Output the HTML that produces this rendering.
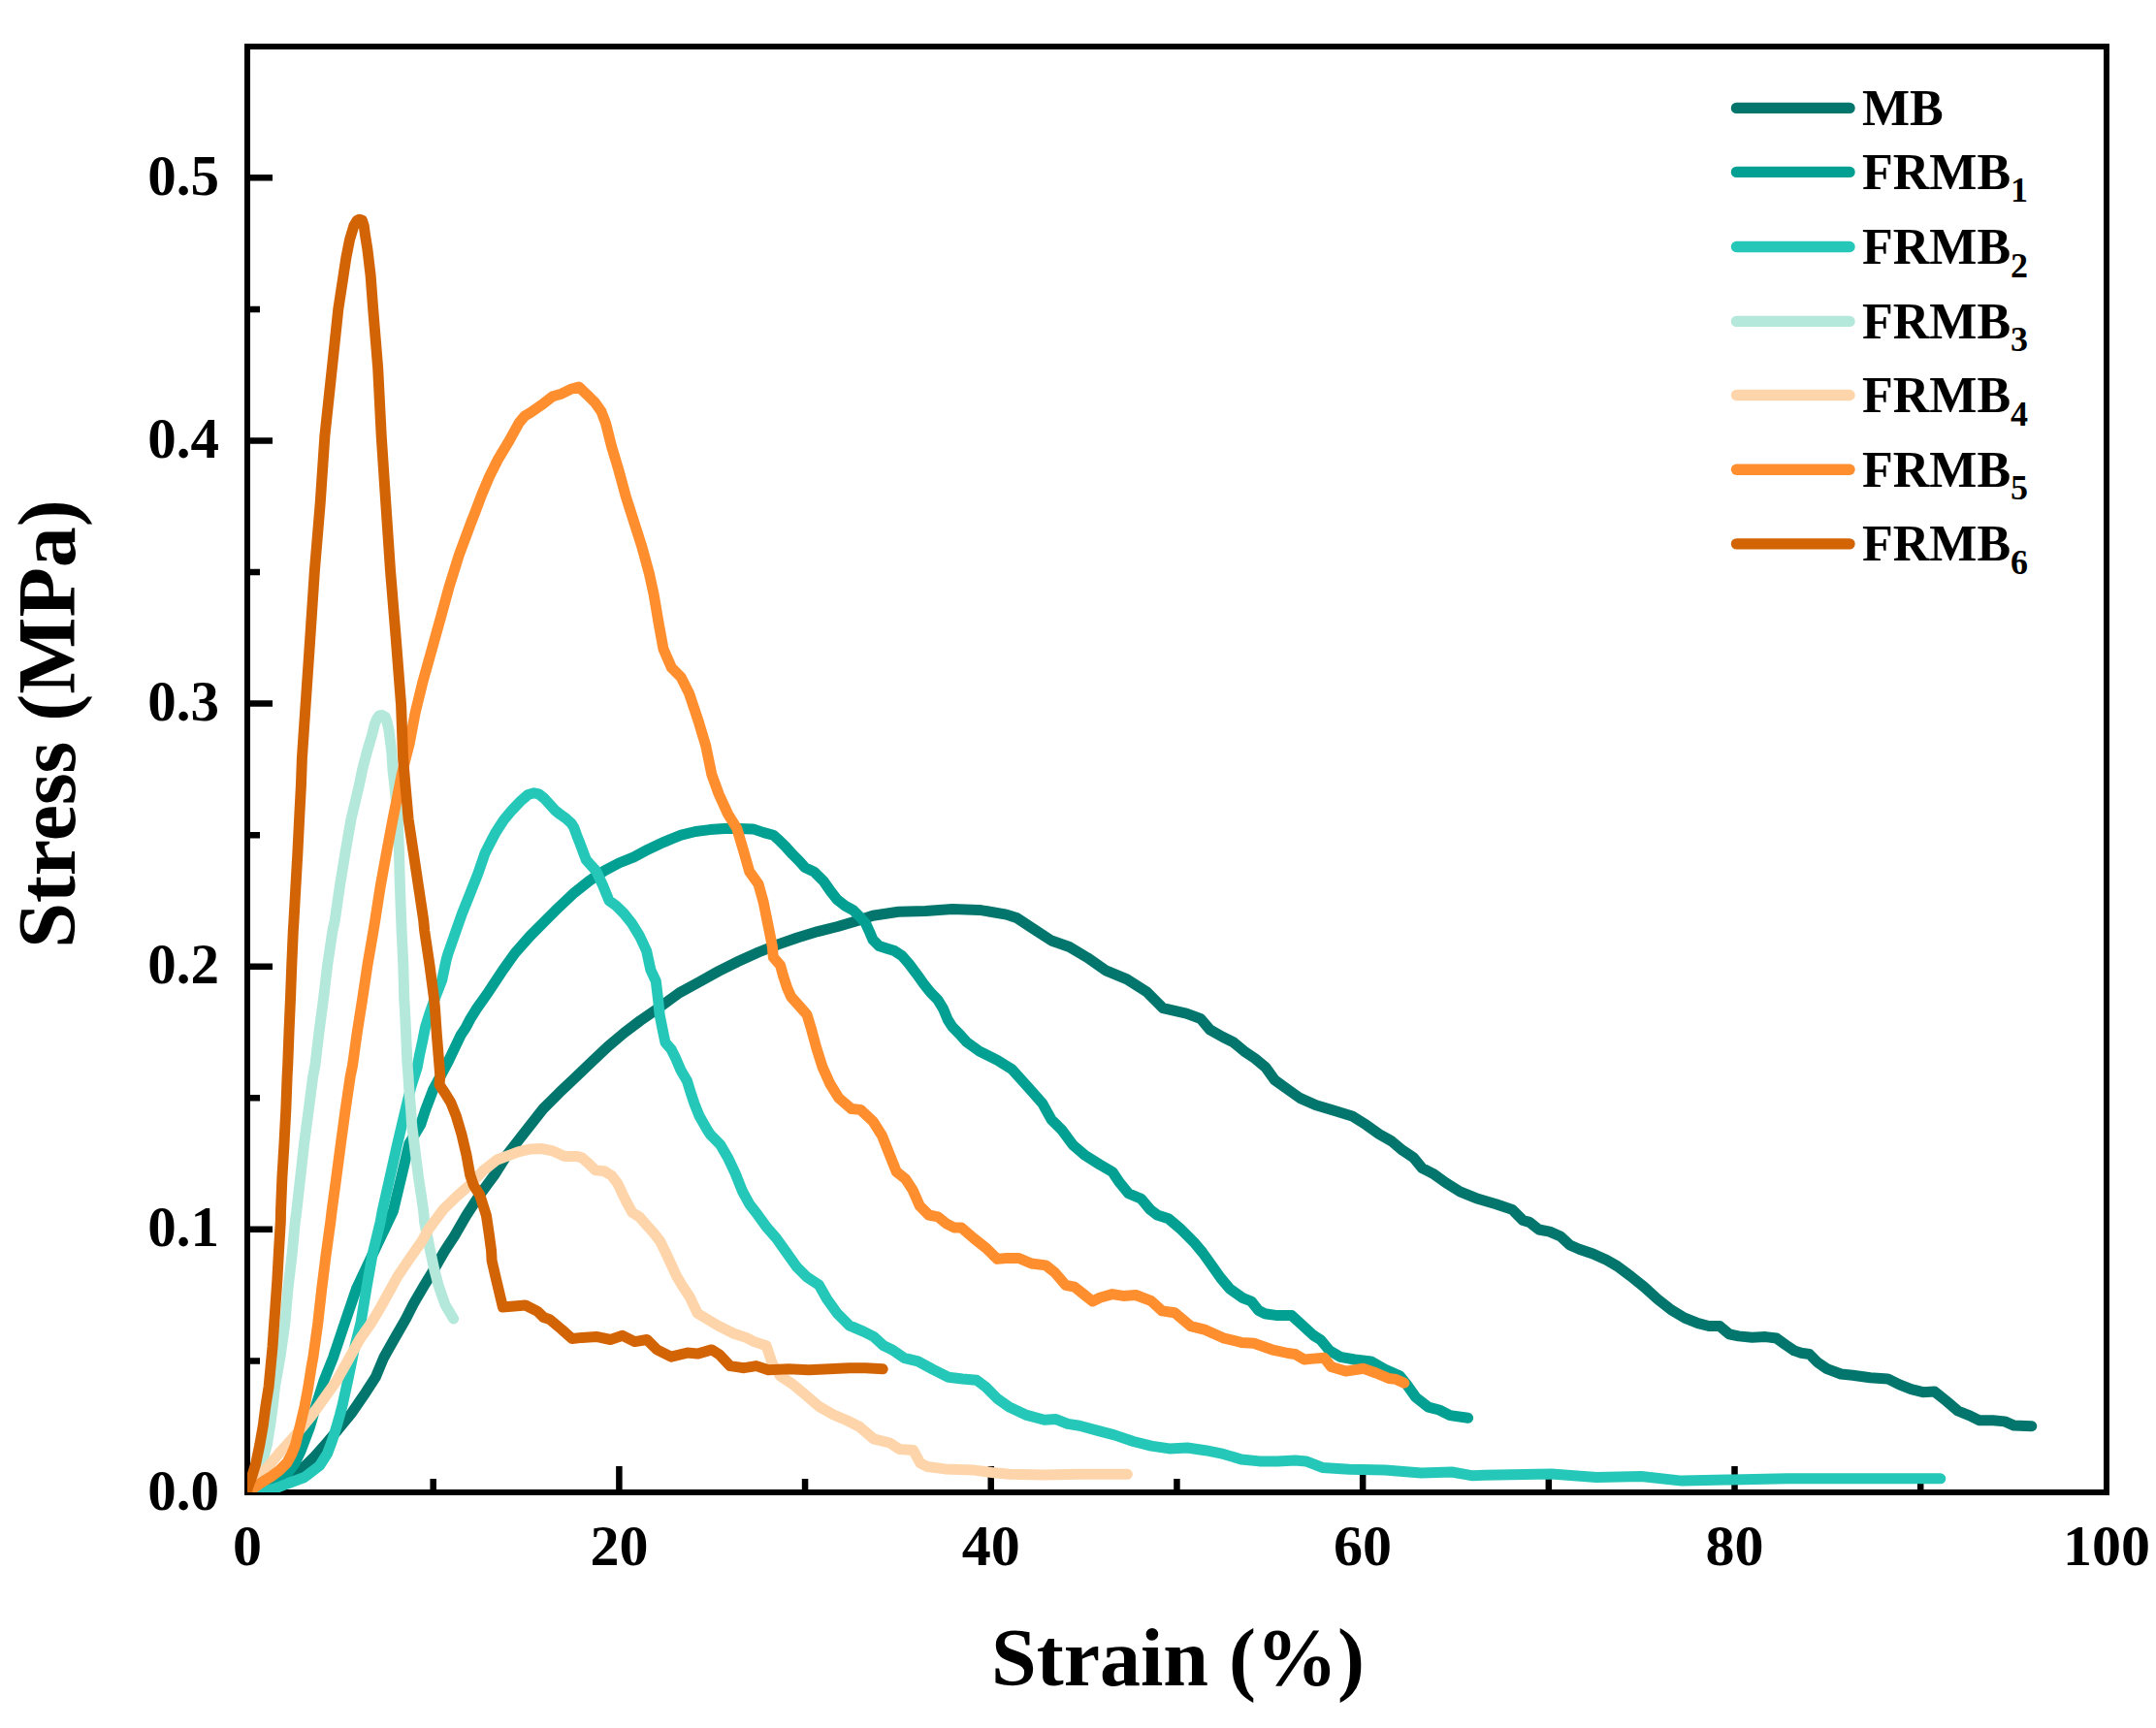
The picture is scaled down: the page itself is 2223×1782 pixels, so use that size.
<!DOCTYPE html><html><head><meta charset="utf-8"><title>Stress-Strain</title><style>html,body{margin:0;padding:0;background:#fff;overflow:hidden}</style></head><body><svg width="2223" height="1782" viewBox="0 0 2223 1782" style="display:block">
<rect x="0" y="0" width="2223" height="1782" fill="#fff"/>
<path d="M255 1267.87H281 M255 996.74H281 M255 725.61H281 M255 454.48H281 M255 183.35H281 M255 1403.43H268 M255 1132.30H268 M255 861.17H268 M255 590.04H268 M255 318.91H268 M638.38 1539V1512 M1021.76 1539V1512 M1405.14 1539V1512 M1788.52 1539V1512 M446.69 1539V1525 M830.07 1539V1525 M1213.45 1539V1525 M1596.83 1539V1525 M1980.21 1539V1525" stroke="#000" stroke-width="6.5" fill="none"/>
<rect x="255" y="48" width="1917" height="1491" fill="none" stroke="#000" stroke-width="6"/>
<defs><clipPath id="pc"><rect x="255" y="48" width="1917" height="1491"/></clipPath></defs>
<g clip-path="url(#pc)">
<path d="M255.0 1539.0 L270.0 1533.0 L284.6 1527.8 L294.6 1523.8 L304.6 1518.5 L314.5 1511.8 L324.5 1501.9 L335.2 1489.9 L348.3 1474.6 L362.9 1456.7 L375.1 1438.9 L387.2 1420.3 L395.7 1400.0 L407.0 1380.0 L418.5 1360.0 L426.2 1344.8 L437.0 1326.3 L447.0 1310.0 L458.5 1290.0 L468.8 1274.2 L480.9 1253.3 L494.4 1232.5 L509.7 1211.7 L522.9 1190.8 L539.2 1170.0 L560.0 1143.5 L576.7 1126.8 L593.4 1111.0 L610.1 1095.1 L626.8 1079.2 L643.5 1065.1 L660.2 1052.5 L676.9 1040.9 L700.4 1023.9 L720.8 1012.7 L741.2 1001.4 L761.6 991.2 L782.0 982.0 L802.4 973.9 L822.9 966.7 L843.3 960.6 L863.7 955.5 L884.1 949.4 L900.0 944.3 L926.4 940.3 L954.2 939.4 L982.0 937.5 L1009.9 938.4 L1037.7 943.1 L1048.8 946.8 L1065.5 957.9 L1084.1 970.0 L1102.6 976.5 L1121.2 987.6 L1139.7 1000.6 L1162.0 1009.9 L1182.4 1022.9 L1199.1 1039.6 L1223.2 1045.1 L1238.1 1050.7 L1247.5 1061.9 L1260.5 1069.3 L1271.6 1074.8 L1282.8 1084.1 L1293.9 1091.5 L1305.0 1100.8 L1314.3 1113.8 L1327.3 1123.1 L1340.3 1132.4 L1357.0 1139.8 L1375.5 1145.3 L1394.1 1150.9 L1408.9 1160.2 L1421.9 1169.5 L1434.9 1176.9 L1446.0 1186.2 L1457.2 1193.6 L1466.4 1204.7 L1477.6 1210.3 L1490.6 1219.6 L1505.4 1228.8 L1523.9 1236.3 L1542.5 1241.8 L1559.2 1247.4 L1570.3 1258.5 L1577.0 1260.4 L1586.7 1268.0 L1597.8 1270.1 L1609.0 1275.0 L1618.7 1284.0 L1628.4 1288.2 L1642.4 1293.0 L1656.3 1299.3 L1667.4 1305.6 L1681.3 1316.0 L1695.2 1327.1 L1709.1 1339.7 L1723.1 1350.8 L1737.0 1359.1 L1750.9 1364.7 L1762.0 1367.5 L1773.1 1367.5 L1782.9 1375.8 L1792.6 1377.9 L1806.5 1379.3 L1820.4 1378.6 L1831.6 1380.0 L1841.3 1387.0 L1850.0 1392.9 L1857.2 1395.3 L1865.7 1396.5 L1874.1 1405.0 L1883.8 1411.6 L1898.2 1417.0 L1910.3 1418.2 L1928.4 1420.7 L1946.5 1421.9 L1958.5 1427.9 L1970.6 1432.7 L1982.7 1435.7 L1994.7 1435.1 L2006.8 1444.8 L2018.8 1455.0 L2030.9 1459.8 L2040.5 1464.7 L2055.0 1464.7 L2067.1 1465.9 L2076.7 1470.1 L2094.8 1470.7" stroke="#02766C" stroke-width="11" fill="none" stroke-linecap="round" stroke-linejoin="round"/>
<path d="M255.0 1539.0 L275.0 1533.0 L288.0 1526.5 L296.7 1519.0 L303.6 1509.8 L310.0 1496.5 L319.0 1472.9 L326.0 1449.0 L333.8 1424.3 L343.5 1400.0 L355.5 1364.2 L367.3 1329.4 L383.7 1294.7 L394.5 1272.0 L405.4 1248.9 L413.7 1214.2 L421.9 1179.4 L433.6 1160.0 L438.8 1144.2 L446.8 1123.3 L461.7 1095.6 L474.9 1067.8 L480.1 1060.0 L484.7 1051.1 L491.6 1040.0 L503.4 1023.3 L518.8 1000.0 L531.0 982.9 L546.3 965.5 L561.6 950.2 L576.9 934.9 L592.2 920.6 L607.6 908.4 L622.9 898.2 L638.2 890.0 L653.5 883.9 L668.8 875.7 L684.1 868.6 L691.1 865.6 L702.3 861.2 L717.1 857.5 L731.9 855.6 L746.8 854.5 L761.6 854.5 L776.5 854.9 L787.6 858.6 L797.3 861.2 L802.4 865.6 L809.9 873.0 L817.3 881.2 L824.7 888.6 L830.0 894.6 L839.5 899.1 L849.1 908.6 L856.7 919.5 L863.1 927.7 L871.4 934.1 L879.7 938.6 L886.0 944.9 L892.4 951.9 L896.8 961.5 L900.0 969.1 L906.4 975.5 L914.0 978.0 L922.3 980.6 L930.0 985.7 L937.4 994.1 L945.7 1005.2 L952.2 1014.4 L959.6 1023.7 L967.0 1031.1 L972.6 1040.4 L977.2 1051.5 L981.9 1058.9 L989.3 1066.3 L996.7 1074.6 L1009.9 1084.1 L1028.4 1093.4 L1043.3 1102.6 L1060.0 1121.2 L1074.8 1137.9 L1084.1 1154.6 L1095.2 1165.7 L1106.1 1180.6 L1119.1 1191.7 L1134.0 1201.0 L1146.9 1208.4 L1154.4 1219.6 L1163.6 1230.7 L1176.6 1236.3 L1185.9 1247.4 L1193.3 1253.0 L1204.8 1256.7 L1217.8 1267.8 L1230.8 1280.8 L1240.1 1291.9 L1249.4 1304.9 L1258.6 1317.9 L1267.9 1329.0 L1280.9 1338.3 L1290.2 1342.0 L1297.6 1351.3 L1304.0 1354.7 L1317.0 1356.6 L1331.8 1356.6 L1343.0 1366.8 L1354.1 1377.0 L1361.5 1381.6 L1370.8 1392.8 L1381.9 1399.3 L1396.8 1402.0 L1413.4 1403.9 L1428.3 1412.2 L1443.1 1418.7 L1450.6 1428.0 L1459.8 1441.0 L1472.8 1451.2 L1484.0 1454.0 L1495.1 1459.6 L1513.6 1462.3" stroke="#02A092" stroke-width="11" fill="none" stroke-linecap="round" stroke-linejoin="round"/>
<path d="M255.0 1540.0 L272.0 1538.0 L285.0 1534.5 L296.3 1530.0 L313.8 1523.5 L329.5 1511.5 L337.5 1499.0 L342.0 1487.0 L346.5 1473.0 L350.5 1459.0 L353.2 1448.6 L358.5 1424.3 L365.5 1390.0 L372.0 1364.2 L377.7 1329.4 L383.8 1294.7 L392.2 1260.0 L394.2 1248.9 L402.0 1214.2 L409.8 1179.4 L418.0 1144.7 L424.0 1120.0 L430.1 1101.1 L432.7 1087.2 L435.7 1073.3 L438.5 1059.4 L442.8 1045.6 L449.0 1028.0 L455.7 1010.8 L460.1 990.0 L461.7 984.2 L469.0 963.3 L476.3 942.5 L484.6 921.7 L492.9 900.8 L500.0 880.0 L503.9 872.3 L511.1 858.4 L519.5 845.6 L527.8 835.6 L536.2 826.7 L544.5 819.5 L550.6 817.8 L555.6 818.9 L561.2 823.4 L566.8 829.5 L572.3 835.6 L577.9 840.1 L583.5 844.0 L589.0 849.0 L591.8 853.4 L594.6 861.2 L597.9 869.6 L601.8 880.0 L604.5 886.9 L614.7 898.2 L621.8 913.5 L628.0 928.8 L635.1 933.9 L643.3 942.0 L651.4 952.2 L659.6 965.5 L666.7 980.8 L670.8 1000.0 L676.3 1011.9 L678.5 1030.0 L680.2 1046.7 L683.5 1063.4 L686.0 1075.1 L691.9 1081.8 L696.9 1091.8 L701.9 1103.5 L708.6 1115.1 L711.9 1126.0 L716.1 1138.5 L721.1 1151.0 L730.3 1166.9 L733.0 1170.7 L742.6 1180.3 L751.0 1194.8 L758.3 1210.4 L765.5 1228.5 L772.8 1241.8 L781.2 1252.7 L790.8 1265.9 L800.6 1277.1 L811.0 1291.7 L821.4 1306.4 L831.9 1316.8 L844.4 1325.1 L852.7 1339.8 L863.2 1354.4 L875.7 1366.9 L890.3 1373.1 L900.8 1378.4 L911.2 1387.8 L920.0 1391.9 L932.1 1400.3 L946.5 1403.9 L962.2 1412.4 L977.9 1420.2 L992.4 1422.0 L1006.8 1423.2 L1016.5 1430.4 L1028.5 1442.5 L1040.6 1451.0 L1058.7 1459.4 L1076.8 1464.2 L1088.8 1463.6 L1100.9 1468.4 L1113.0 1470.2 L1131.0 1475.1 L1149.1 1479.9 L1168.6 1486.5 L1187.1 1491.1 L1205.7 1493.9 L1224.2 1493.0 L1242.8 1495.7 L1261.3 1499.4 L1279.9 1505.0 L1298.4 1506.9 L1317.0 1506.9 L1335.5 1505.9 L1346.7 1506.9 L1363.4 1513.4 L1391.2 1515.2 L1428.3 1516.1 L1465.4 1518.9 L1496.9 1518.0 L1517.3 1521.7 L1530.0 1521.3 L1599.6 1520.1 L1646.0 1523.6 L1692.3 1522.5 L1734.1 1527.1 L1785.1 1525.9 L1843.1 1524.8 L1901.1 1524.8 L1947.4 1524.8 L2000.8 1524.8" stroke="#25C7B8" stroke-width="11" fill="none" stroke-linecap="round" stroke-linejoin="round"/>
<path d="M255.0 1539.0 L264.0 1530.0 L270.0 1510.0 L275.3 1489.9 L278.6 1469.9 L281.3 1450.0 L283.5 1430.0 L289.0 1398.9 L293.9 1364.2 L296.9 1329.4 L301.0 1294.7 L304.3 1260.0 L305.8 1248.9 L309.7 1214.2 L313.6 1179.4 L318.2 1144.7 L322.7 1110.0 L324.9 1098.9 L329.0 1064.2 L333.6 1029.4 L337.7 994.7 L342.9 960.0 L345.3 948.9 L350.3 914.2 L356.0 879.4 L362.0 844.7 L370.3 810.0 L373.5 794.1 L378.3 775.6 L383.8 757.0 L386.3 746.9 L388.6 741.3 L391.0 738.0 L394.0 737.5 L397.4 739.5 L399.2 745.0 L400.8 752.4 L401.5 757.0 L403.8 775.6 L405.0 794.1 L406.8 810.0 L410.2 844.7 L411.5 879.4 L412.4 914.2 L413.7 948.9 L414.1 960.0 L415.8 994.7 L416.7 1029.4 L417.4 1040.0 L418.7 1067.8 L419.9 1095.6 L421.0 1110.0 L421.8 1123.3 L423.7 1144.7 L424.6 1160.0 L427.1 1179.4 L431.5 1214.2 L436.7 1248.9 L437.6 1260.0 L443.5 1289.3 L447.5 1307.8 L452.3 1326.3 L459.0 1345.5 L467.6 1360.0" stroke="#B4E8DA" stroke-width="11" fill="none" stroke-linecap="round" stroke-linejoin="round"/>
<path d="M255.0 1539.0 L261.3 1528.5 L268.0 1521.8 L278.6 1509.8 L289.6 1496.5 L295.9 1489.9 L304.6 1479.9 L313.2 1469.9 L321.2 1460.0 L328.5 1450.0 L347.0 1424.0 L361.0 1399.0 L371.0 1381.0 L383.0 1364.0 L393.0 1347.0 L403.0 1329.0 L409.5 1317.0 L422.0 1298.5 L435.0 1280.0 L441.7 1268.0 L450.0 1256.8 L456.9 1247.4 L470.8 1233.9 L484.7 1221.7 L498.6 1206.8 L512.5 1196.0 L526.4 1190.8 L534.3 1187.8 L547.2 1184.9 L558.1 1184.5 L570.1 1186.9 L582.2 1192.4 L594.3 1192.4 L600.0 1193.9 L607.4 1200.4 L613.9 1206.9 L623.1 1207.8 L630.6 1212.4 L637.0 1220.7 L641.7 1230.9 L646.3 1240.2 L651.9 1250.4 L659.3 1255.0 L666.7 1263.3 L674.1 1271.7 L680.6 1280.0 L686.1 1291.1 L691.7 1303.1 L697.2 1315.2 L703.7 1326.3 L711.1 1337.4 L719.2 1354.4 L729.6 1360.6 L740.0 1366.9 L756.7 1375.2 L769.3 1379.4 L777.6 1383.6 L790.1 1387.8 L796.4 1406.5 L804.7 1419.1 L817.3 1427.4 L829.8 1437.9 L844.4 1450.4 L859.0 1458.7 L873.6 1465.0 L886.1 1471.2 L900.8 1483.8 L917.5 1488.0 L927.2 1494.4 L941.7 1495.6 L948.9 1508.8 L956.2 1512.5 L974.3 1514.9 L1004.4 1516.1 L1022.5 1518.5 L1040.6 1520.3 L1076.8 1520.9 L1113.0 1520.3 L1162.4 1520.3" stroke="#FED5AA" stroke-width="11" fill="none" stroke-linecap="round" stroke-linejoin="round"/>
<path d="M255.0 1539.0 L262.6 1533.8 L271.3 1527.8 L279.9 1522.5 L287.9 1516.5 L295.9 1508.5 L300.6 1499.9 L304.6 1489.9 L309.5 1469.9 L314.2 1450.0 L317.9 1430.0 L321.0 1410.0 L323.0 1398.9 L327.8 1364.2 L331.7 1329.4 L336.0 1294.7 L340.8 1260.0 L342.1 1248.9 L346.8 1214.2 L351.4 1179.4 L356.1 1144.7 L361.2 1110.0 L363.5 1098.9 L368.3 1064.2 L373.8 1029.4 L379.0 994.7 L385.0 960.0 L386.8 948.9 L392.2 914.2 L398.5 879.4 L405.0 844.7 L409.0 825.0 L414.0 799.7 L418.3 782.0 L422.1 767.2 L428.2 734.8 L436.1 702.4 L445.2 670.0 L454.3 637.2 L463.2 604.8 L473.3 572.4 L485.3 540.0 L489.6 528.9 L496.6 510.4 L504.4 491.9 L513.7 473.3 L524.8 454.8 L535.0 436.3 L541.0 429.0 L547.0 425.5 L558.1 417.8 L570.0 408.7 L579.3 405.9 L588.5 401.3 L596.9 399.0 L605.2 406.9 L613.5 415.2 L620.0 424.4 L624.4 435.9 L630.5 460.2 L637.8 484.5 L645.1 511.3 L653.6 538.0 L662.1 564.7 L669.4 591.5 L674.2 613.4 L679.1 642.5 L684.0 669.3 L692.5 688.7 L702.2 698.4 L710.7 715.4 L720.4 744.6 L727.7 768.9 L730.0 780.0 L733.8 798.6 L741.2 819.0 L750.5 839.4 L759.7 854.2 L765.3 872.8 L772.7 898.7 L782.0 911.7 L787.1 930.0 L790.2 945.3 L793.3 960.6 L796.3 975.9 L797.3 987.1 L804.5 995.3 L807.6 1006.5 L811.6 1018.8 L815.7 1028.0 L824.9 1038.2 L832.0 1046.3 L836.2 1060.0 L841.7 1080.4 L848.2 1100.8 L855.7 1117.5 L864.9 1132.4 L877.9 1143.5 L887.2 1144.4 L900.2 1156.5 L909.5 1171.3 L916.9 1189.9 L924.3 1208.4 L933.6 1215.8 L941.0 1227.0 L948.4 1243.7 L957.7 1253.0 L967.0 1254.8 L976.3 1262.2 L983.7 1265.9 L991.1 1265.9 L1004.1 1277.1 L1017.1 1287.3 L1028.2 1298.4 L1037.5 1297.5 L1050.5 1297.5 L1063.5 1303.0 L1078.3 1304.9 L1087.6 1312.3 L1098.7 1325.3 L1108.0 1327.2 L1117.3 1334.6 L1126.5 1342.0 L1134.0 1338.3 L1146.9 1334.6 L1158.1 1336.4 L1171.1 1335.5 L1187.1 1341.7 L1198.2 1351.9 L1211.2 1353.8 L1227.9 1367.7 L1242.8 1371.4 L1261.3 1379.8 L1279.9 1384.4 L1292.9 1385.3 L1311.4 1391.8 L1328.1 1395.5 L1335.5 1396.5 L1344.8 1402.0 L1354.1 1401.1 L1365.2 1400.2 L1372.6 1409.5 L1387.5 1414.1 L1406.0 1411.3 L1419.0 1416.0 L1432.0 1421.5 L1439.4 1422.4 L1447.8 1426.2" stroke="#FF8E2F" stroke-width="11" fill="none" stroke-linecap="round" stroke-linejoin="round"/>
<path d="M254.0 1542.0 L255.5 1534.0 L259.6 1523.1 L263.6 1509.8 L267.8 1489.9 L271.3 1469.9 L273.9 1450.0 L277.1 1430.0 L281.0 1388.9 L285.9 1319.4 L287.5 1290.0 L289.3 1260.0 L289.5 1248.9 L290.9 1214.2 L293.0 1179.4 L294.8 1144.7 L296.1 1110.0 L296.7 1098.9 L298.0 1064.2 L299.5 1029.4 L300.8 994.7 L302.3 960.0 L303.0 948.9 L304.9 914.2 L306.9 879.4 L308.6 844.7 L310.4 810.0 L311.4 782.0 L314.9 730.0 L319.8 657.8 L324.4 588.3 L330.2 518.9 L334.9 449.4 L342.3 380.0 L348.8 318.9 L354.1 284.1 L356.9 265.6 L360.6 247.0 L364.8 233.1 L368.0 227.5 L370.5 226.3 L373.5 227.3 L375.3 233.1 L376.5 242.4 L378.8 256.3 L382.1 284.0 L384.7 318.9 L389.7 380.0 L393.2 449.4 L397.8 518.9 L402.5 588.3 L408.2 657.8 L413.6 727.2 L415.6 782.0 L418.0 810.0 L421.1 844.7 L426.3 879.4 L431.5 914.2 L436.7 948.9 L437.7 960.0 L442.9 994.7 L447.5 1029.4 L448.5 1040.0 L450.4 1067.8 L452.7 1095.6 L453.8 1109.4 L453.0 1118.5 L458.6 1126.8 L464.9 1137.2 L470.4 1151.1 L476.0 1170.0 L480.9 1190.8 L484.7 1211.7 L488.2 1222.1 L494.8 1232.5 L501.4 1253.3 L504.5 1274.2 L506.6 1290.0 L507.1 1300.0 L511.5 1318.9 L518.4 1348.1 L541.7 1346.0 L554.3 1352.3 L560.5 1358.5 L566.8 1360.6 L579.3 1371.1 L589.8 1380.5 L600.2 1379.4 L614.8 1378.4 L629.4 1381.5 L641.9 1377.3 L654.5 1383.6 L667.0 1381.5 L677.4 1391.9 L692.0 1399.2 L708.7 1395.1 L719.2 1396.1 L733.8 1391.9 L742.1 1397.2 L752.6 1408.6 L767.2 1410.7 L779.7 1408.6 L792.2 1412.8 L813.1 1411.8 L834.0 1412.8 L854.8 1411.8 L875.7 1410.7 L892.4 1410.7 L910.2 1411.8" stroke="#D36406" stroke-width="11" fill="none" stroke-linecap="round" stroke-linejoin="round"/>
</g>
<g font-family="'Liberation Serif', serif" font-weight="bold" font-size="60" fill="#000"><text x="226" y="1556.5" text-anchor="end" font-size="59">0.0</text><text x="226" y="1285.4" text-anchor="end" font-size="59">0.1</text><text x="226" y="1014.2" text-anchor="end" font-size="59">0.2</text><text x="226" y="743.1" text-anchor="end" font-size="59">0.3</text><text x="226" y="472.0" text-anchor="end" font-size="59">0.4</text><text x="226" y="200.8" text-anchor="end" font-size="59">0.5</text><text x="255.0" y="1614" text-anchor="middle">0</text><text x="638.4" y="1614" text-anchor="middle">20</text><text x="1021.8" y="1614" text-anchor="middle">40</text><text x="1405.1" y="1614" text-anchor="middle">60</text><text x="1788.5" y="1614" text-anchor="middle">80</text><text x="2171.9" y="1614" text-anchor="middle">100</text></g>
<text x="1214.5" y="1738" text-anchor="middle" font-family="'Liberation Serif', serif" font-weight="bold" font-size="84" fill="#000">Strain (%)</text>
<text transform="translate(77 746.5) rotate(-90)" text-anchor="middle" font-family="'Liberation Serif', serif" font-weight="bold" font-size="84" fill="#000">Stress (MPa)</text>
<line x1="1790.5" y1="111.4" x2="1907" y2="111.4" stroke="#02766C" stroke-width="11.4" stroke-linecap="round"/>
<text x="1920" y="128.9" font-family="'Liberation Serif', serif" font-weight="bold" font-size="52" fill="#000">MB</text>
<line x1="1790.5" y1="177.4" x2="1907" y2="177.4" stroke="#02A092" stroke-width="11.4" stroke-linecap="round"/>
<text x="1920" y="194.9" font-family="'Liberation Serif', serif" font-weight="bold" font-size="52" fill="#000">FRMB<tspan font-size="36" dy="13.5">1</tspan></text>
<line x1="1790.5" y1="254.5" x2="1907" y2="254.5" stroke="#25C7B8" stroke-width="11.4" stroke-linecap="round"/>
<text x="1920" y="272.0" font-family="'Liberation Serif', serif" font-weight="bold" font-size="52" fill="#000">FRMB<tspan font-size="36" dy="13.5">2</tspan></text>
<line x1="1790.5" y1="331.4" x2="1907" y2="331.4" stroke="#B4E8DA" stroke-width="11.4" stroke-linecap="round"/>
<text x="1920" y="348.9" font-family="'Liberation Serif', serif" font-weight="bold" font-size="52" fill="#000">FRMB<tspan font-size="36" dy="13.5">3</tspan></text>
<line x1="1790.5" y1="407.5" x2="1907" y2="407.5" stroke="#FED5AA" stroke-width="11.4" stroke-linecap="round"/>
<text x="1920" y="425.0" font-family="'Liberation Serif', serif" font-weight="bold" font-size="52" fill="#000">FRMB<tspan font-size="36" dy="13.5">4</tspan></text>
<line x1="1790.5" y1="484.3" x2="1907" y2="484.3" stroke="#FF8E2F" stroke-width="11.4" stroke-linecap="round"/>
<text x="1920" y="501.8" font-family="'Liberation Serif', serif" font-weight="bold" font-size="52" fill="#000">FRMB<tspan font-size="36" dy="13.5">5</tspan></text>
<line x1="1790.5" y1="560.9" x2="1907" y2="560.9" stroke="#D36406" stroke-width="11.4" stroke-linecap="round"/>
<text x="1920" y="578.4" font-family="'Liberation Serif', serif" font-weight="bold" font-size="52" fill="#000">FRMB<tspan font-size="36" dy="13.5">6</tspan></text>
</svg></body></html>
